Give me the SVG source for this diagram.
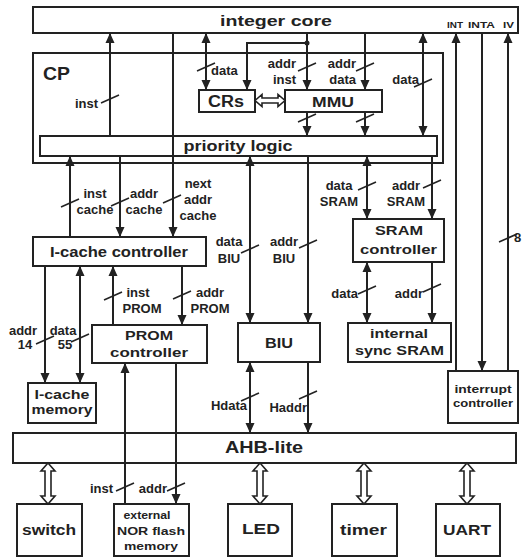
<svg xmlns="http://www.w3.org/2000/svg" xmlns:xlink="http://www.w3.org/1999/xlink" width="523" height="559" viewBox="0 0 523 559">
<style>
.b{fill:#fff;stroke:#222;stroke-width:2}
.t{font-family:"Liberation Sans",Arial,sans-serif;font-weight:bold;fill:#222;text-anchor:middle}
.l{font-family:"Liberation Sans",Arial,sans-serif;font-weight:bold;fill:#222;font-size:13px}
.m{text-anchor:middle}
.e{text-anchor:end}
.c{fill:none;stroke:#222;stroke-width:2}
.h{fill:#fff;stroke:#222;stroke-width:1.6}
</style>
<defs>
<marker id="a" markerWidth="10" markerHeight="10" refX="10" refY="5" orient="auto-start-reverse" markerUnits="userSpaceOnUse"><path d="M0,0.5 L10,5 L0,9.5 Z" fill="#222"/></marker>
<path id="tk" d="M-9,4 L9,-4" stroke="#222" stroke-width="1.6"/>
<path id="dbl" d="M0,0 L7,8 L3,8 L3,33 L7,33 L0,41 L-7,33 L-3,33 L-3,8 L-7,8 Z"/>
</defs>
<rect width="523" height="559" fill="#fff"/>

<g id="integer-core"><rect class="b" x="33" y="7" width="485" height="26"/><text class="t" x="276" y="26" font-size="15" textLength="112" lengthAdjust="spacingAndGlyphs">integer core</text>
<text class="t" x="455" y="28" font-size="9" textLength="16" lengthAdjust="spacingAndGlyphs">INT</text><text class="t" x="481.5" y="28" font-size="9" textLength="27" lengthAdjust="spacingAndGlyphs">INTA</text><text class="t" x="508.5" y="28" font-size="9" textLength="11" lengthAdjust="spacingAndGlyphs">IV</text></g>
<g id="cp"><rect class="b" x="33" y="53" width="410" height="110"/><text class="t" x="56.5" y="80" font-size="18" textLength="27" lengthAdjust="spacingAndGlyphs">CP</text></g>
<g id="priority-logic"><rect class="b" x="40" y="136" width="397" height="20"/><text class="t" x="238" y="151" font-size="14" textLength="109" lengthAdjust="spacingAndGlyphs">priority logic</text></g>
<g id="crs"><rect class="b" x="199" y="90" width="56" height="22"/><text class="t" x="226" y="106.5" font-size="16" textLength="36" lengthAdjust="spacingAndGlyphs">CRs</text></g>
<g id="mmu"><rect class="b" x="285" y="90" width="97" height="22"/><text class="t" x="333" y="107" font-size="14" textLength="42" lengthAdjust="spacingAndGlyphs">MMU</text></g>
<g id="icache-ctrl"><rect class="b" x="33" y="237" width="173" height="29"/><text class="t" x="119" y="257" font-size="14" textLength="138" lengthAdjust="spacingAndGlyphs">I-cache controller</text></g>
<g id="sram-ctrl"><rect class="b" x="353" y="219" width="91" height="43"/><text class="t" x="399" y="235" font-size="13" textLength="48" lengthAdjust="spacingAndGlyphs">SRAM</text><text class="t" x="398.5" y="254" font-size="13" textLength="77" lengthAdjust="spacingAndGlyphs">controller</text></g>
<g id="sync-sram"><rect class="b" x="348" y="323" width="103" height="39"/><text class="t" x="399" y="338" font-size="12.5" textLength="58" lengthAdjust="spacingAndGlyphs">internal</text><text class="t" x="399.5" y="355" font-size="12.5" textLength="89" lengthAdjust="spacingAndGlyphs">sync SRAM</text></g>
<g id="biu"><rect class="b" x="238" y="323" width="82" height="39"/><text class="t" x="279" y="348" font-size="14" textLength="28" lengthAdjust="spacingAndGlyphs">BIU</text></g>
<g id="prom-ctrl"><rect class="b" x="92" y="325" width="115" height="38"/><text class="t" x="149" y="340" font-size="13" textLength="48" lengthAdjust="spacingAndGlyphs">PROM</text><text class="t" x="149" y="357" font-size="13" textLength="78" lengthAdjust="spacingAndGlyphs">controller</text></g>
<g id="icache-mem"><rect class="b" x="28" y="383" width="68" height="40"/><text class="t" x="62" y="399" font-size="12.5" textLength="55" lengthAdjust="spacingAndGlyphs">I-cache</text><text class="t" x="62" y="414" font-size="12.5" textLength="61" lengthAdjust="spacingAndGlyphs">memory</text></g>
<g id="int-ctrl"><rect class="b" x="448" y="371" width="70" height="52"/><text class="t" x="483" y="393" font-size="10" font-weight="normal" textLength="57" lengthAdjust="spacingAndGlyphs">interrupt</text><text class="t" x="483" y="407" font-size="10" font-weight="normal" textLength="60" lengthAdjust="spacingAndGlyphs">controller</text></g>
<g id="ahb"><rect class="b" x="13" y="433" width="503" height="30"/><text class="t" x="264" y="453" font-size="16" textLength="78" lengthAdjust="spacingAndGlyphs">AHB-lite</text></g>
<g id="switch"><rect class="b" x="17" y="504" width="65" height="52"/><text class="t" x="49" y="535" font-size="14" textLength="54" lengthAdjust="spacingAndGlyphs">switch</text></g>
<g id="nor"><rect class="b" x="114" y="504" width="75" height="52"/><text class="t" x="147" y="519" font-size="10.5" textLength="47" lengthAdjust="spacingAndGlyphs">external</text><text class="t" x="151" y="535" font-size="10.5" textLength="68" lengthAdjust="spacingAndGlyphs">NOR flash</text><text class="t" x="151" y="550" font-size="10.5" textLength="54" lengthAdjust="spacingAndGlyphs">memory</text></g>
<g id="led"><rect class="b" x="228" y="504" width="64" height="52"/><text class="t" x="261" y="534" font-size="14" textLength="38" lengthAdjust="spacingAndGlyphs">LED</text></g>
<g id="timer"><rect class="b" x="332" y="504" width="65" height="52"/><text class="t" x="363.5" y="535" font-size="14" textLength="47" lengthAdjust="spacingAndGlyphs">timer</text></g>
<g id="uart"><rect class="b" x="436" y="504" width="64" height="52"/><text class="t" x="467" y="535" font-size="14" textLength="48" lengthAdjust="spacingAndGlyphs">UART</text></g>

<g id="connectors">
<path class="c" d="M110,136 V33" marker-end="url(#a)"/>
<path class="c" d="M173,33 V237" marker-end="url(#a)"/>
<path class="c" d="M206,33 V90" marker-start="url(#a)" marker-end="url(#a)"/>
<path class="c" d="M307,33 V90" marker-end="url(#a)"/>
<path class="c" d="M307,43 H247 V90" marker-end="url(#a)"/>
<circle cx="307" cy="43" r="2.5" fill="#222"/>
<path class="c" d="M365,33 V90" marker-end="url(#a)"/>
<path class="c" d="M423,33 V136" marker-start="url(#a)" marker-end="url(#a)"/>
<path class="c" d="M307,112 V136" marker-end="url(#a)"/>
<path class="c" d="M365,112 V136" marker-end="url(#a)"/>
<path class="h" d="M255,100.5 L262,94.5 L262,98 L278,98 L278,94.5 L285,100.5 L278,106.5 L278,103 L262,103 L262,106.5 Z"/>
<path class="c" d="M456,371 V33" marker-end="url(#a)"/>
<path class="c" d="M482,33 V371" marker-end="url(#a)"/>
<path class="c" d="M508,371 V33" marker-end="url(#a)"/>
<path class="c" d="M70,237 V156" marker-end="url(#a)"/>
<path class="c" d="M120,156 V237" marker-end="url(#a)"/>
<path class="c" d="M250,156 V323" marker-start="url(#a)" marker-end="url(#a)"/>
<path class="c" d="M308,156 V323" marker-end="url(#a)"/>
<path class="c" d="M367,156 V219" marker-start="url(#a)" marker-end="url(#a)"/>
<path class="c" d="M432,156 V219" marker-end="url(#a)"/>
<path class="c" d="M367,262 V323" marker-start="url(#a)" marker-end="url(#a)"/>
<path class="c" d="M432,262 V323" marker-end="url(#a)"/>
<path class="c" d="M45,266 V383" marker-end="url(#a)"/>
<path class="c" d="M80,266 V383" marker-start="url(#a)" marker-end="url(#a)"/>
<path class="c" d="M113,325 V266" marker-end="url(#a)"/>
<path class="c" d="M182,266 V325" marker-end="url(#a)"/>
<path class="c" d="M250,362 V433" marker-start="url(#a)" marker-end="url(#a)"/>
<path class="c" d="M308,362 V433" marker-end="url(#a)"/>
<path class="c" d="M125,504 V363" marker-end="url(#a)"/>
<path class="c" d="M176,363 V504" marker-end="url(#a)"/>
<use xlink:href="#dbl" class="h" x="48" y="463"/>
<use xlink:href="#dbl" class="h" x="260" y="463"/>
<use xlink:href="#dbl" class="h" x="364" y="463"/>
<use xlink:href="#dbl" class="h" x="467" y="463"/>
<use xlink:href="#tk" x="110" y="99"/>
<use xlink:href="#tk" x="206" y="67"/>
<use xlink:href="#tk" x="307" y="67"/>
<use xlink:href="#tk" x="365" y="67"/>
<use xlink:href="#tk" x="423" y="83"/>
<use xlink:href="#tk" x="307" y="118"/>
<use xlink:href="#tk" x="365" y="118"/>
<use xlink:href="#tk" x="508" y="238"/>
<use xlink:href="#tk" x="70" y="203"/>
<use xlink:href="#tk" x="120" y="202"/>
<use xlink:href="#tk" x="172" y="199"/>
<use xlink:href="#tk" x="250" y="249"/>
<use xlink:href="#tk" x="308" y="244"/>
<use xlink:href="#tk" x="367" y="186"/>
<use xlink:href="#tk" x="432" y="184"/>
<use xlink:href="#tk" x="367" y="290"/>
<use xlink:href="#tk" x="432" y="288"/>
<use xlink:href="#tk" x="113" y="296"/>
<use xlink:href="#tk" x="182" y="295"/>
<use xlink:href="#tk" x="45" y="340"/>
<use xlink:href="#tk" x="80" y="338"/>
<use xlink:href="#tk" x="250" y="397"/>
<use xlink:href="#tk" x="308" y="395"/>
<use xlink:href="#tk" x="125" y="487"/>
<use xlink:href="#tk" x="176" y="487"/>
</g>
<g id="labels">
<text class="l e" x="98" y="108">inst</text>
<text class="l" x="211" y="75">data</text>
<text class="l e" x="296" y="68">addr</text><text class="l e" x="296" y="84">inst</text>
<text class="l e" x="356" y="68">addr</text><text class="l e" x="356" y="84">data</text>
<text class="l e" x="419" y="84">data</text>
<text class="l" x="514" y="242" font-size="10">8</text>
<text class="l m" x="95" y="198">inst</text><text class="l m" x="95" y="214">cache</text>
<text class="l m" x="144" y="198">addr</text><text class="l m" x="144" y="214">cache</text>
<text class="l m" x="198" y="188">next</text><text class="l m" x="198" y="204">addr</text><text class="l m" x="198" y="220">cache</text>
<text class="l m" x="229" y="246">data</text><text class="l m" x="229" y="263">BIU</text>
<text class="l m" x="284" y="246">addr</text><text class="l m" x="284" y="263">BIU</text>
<text class="l m" x="339" y="190">data</text><text class="l m" x="339" y="206">SRAM</text>
<text class="l m" x="406" y="190">addr</text><text class="l m" x="406" y="206">SRAM</text>
<text class="l e" x="358" y="298">data</text>
<text class="l e" x="423" y="298">addr</text>
<text class="l m" x="138" y="297">inst</text><text class="l m" x="142" y="313">PROM</text>
<text class="l m" x="210" y="297">addr</text><text class="l m" x="210" y="313">PROM</text>
<text class="l m" x="23" y="335">addr</text><text class="l m" x="25" y="349" font-size="11">14</text>
<text class="l m" x="63" y="335">data</text><text class="l m" x="65" y="349" font-size="11">55</text>
<text class="l e" x="247" y="410">Hdata</text>
<text class="l e" x="307" y="412">Haddr</text>
<text class="l e" x="113" y="493">inst</text>
<text class="l e" x="167" y="493">addr</text>
</g>
</svg>
